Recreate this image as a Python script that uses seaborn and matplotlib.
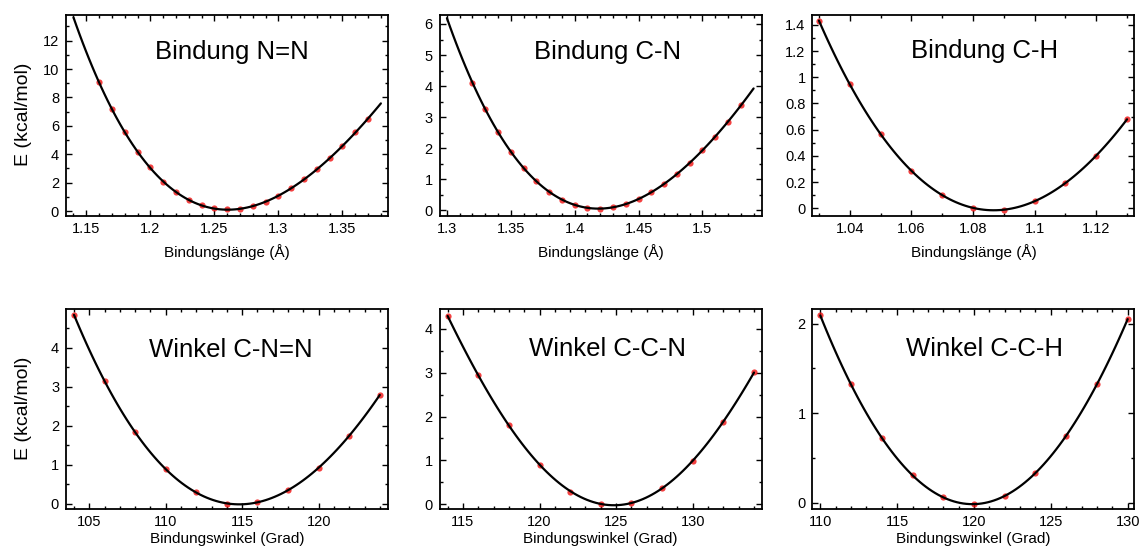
import numpy as np
import matplotlib
matplotlib.use("Agg")
import matplotlib.pyplot as plt
from matplotlib import ticker
import seaborn as sns

# bond length scans: length (Å) vs energy (kcal/mol)
nn_len = [1.16, 1.17, 1.18, 1.19, 1.20, 1.21, 1.22, 1.23, 1.24, 1.25, 1.26,
          1.27, 1.28, 1.29, 1.30, 1.31, 1.32, 1.33, 1.34, 1.35, 1.36, 1.37]
nn_E = [9.06, 7.18, 5.54, 4.18, 3.08, 2.06, 1.32, 0.77, 0.40, 0.19, 0.12,
        0.16, 0.33, 0.66, 1.06, 1.60, 2.23, 2.93, 3.71, 4.60, 5.54, 6.50]

cn_len = [1.32, 1.33, 1.34, 1.35, 1.36, 1.37, 1.38, 1.39, 1.40, 1.41, 1.42,
          1.43, 1.44, 1.45, 1.46, 1.47, 1.48, 1.49, 1.50, 1.51, 1.52, 1.53]
cn_E = [4.11, 3.25, 2.52, 1.89, 1.38, 0.94, 0.60, 0.33, 0.18, 0.08, 0.05,
        0.10, 0.21, 0.37, 0.59, 0.86, 1.17, 1.53, 1.93, 2.37, 2.86, 3.38]

ch_len = [1.03, 1.04, 1.05, 1.06, 1.07, 1.08, 1.09, 1.10, 1.11, 1.12, 1.13]
ch_E = [1.433, 0.947, 0.567, 0.287, 0.10, 0.002, -0.01, 0.053, 0.195, 0.40, 0.68]

# bond angle scans: angle (Grad) vs energy (kcal/mol)
cnn_ang = [104, 106, 108, 110, 112, 114, 116, 118, 120, 122, 124]
cnn_E = [4.84, 3.15, 1.83, 0.88, 0.29, 0.0, 0.04, 0.35, 0.92, 1.74, 2.79]

ccn_ang = [114, 116, 118, 120, 122, 124, 126, 128, 130, 132, 134]
ccn_E = [4.29, 2.94, 1.81, 0.90, 0.29, 0.0, 0.04, 0.38, 0.99, 1.87, 3.01]

cch_ang = [110, 112, 114, 116, 118, 120, 122, 124, 126, 128, 130]
cch_E = [2.09, 1.32, 0.725, 0.305, 0.06, -0.02, 0.08, 0.33, 0.75, 1.32, 2.05]

titles = ["Bindung N=N", "Bindung C-N", "Bindung C-H",
          "Winkel C-N=N", "Winkel C-C-N", "Winkel C-C-H"]
xlab_len = "Bindungslänge (Å)"
xlab_ang = "Bindungswinkel (Grad)"
ylab = "E (kcal/mol)"

sns.set_style("ticks", {"text.color": "black", "axes.labelcolor": "black",
                        "xtick.color": "black", "ytick.color": "black",
                        "axes.edgecolor": "black"})
plt.rcParams["font.family"] = ["Liberation Sans", "DejaVu Sans"]

panels = [
    # x, y, fit range, xlim, ylim, xmajor, xminor, ymajor, title pos
    (nn_len, nn_E, (1.14, 1.38), (1.1342, 1.3856), (-0.35, 13.81), 0.05, 5, 2, (0.514, 0.78)),
    (cn_len, cn_E, (1.30, 1.54), (1.2943, 1.5463), (-0.18, 6.29), 0.05, 5, 1, (0.523, 0.78)),
    (ch_len, ch_E, (1.03, 1.13), (1.0279, 1.1324), (-0.059, 1.476), 0.02, 2, 0.2, (0.533, 0.785)),
    (cnn_ang, cnn_E, (104, 124), (103.48, 124.54), (-0.144, 4.98), 5, 5, 1, (0.512, 0.763)),
    (ccn_ang, ccn_E, (114, 134), (113.48, 134.5), (-0.114, 4.44), 5, 5, 1, (0.521, 0.766)),
    (cch_ang, cch_E, (110, 130), (109.49, 130.44), (-0.074, 2.157), 5, 5, 1, (0.535, 0.766)),
]

col_left = [0.058, 0.386, 0.7133]
row_bottom = [0.6073, 0.074]
row_height = [0.3655, 0.3633]
width = 0.2827

fig = plt.figure(figsize=(11.39, 5.5), dpi=100)

for i, (x, y, fit, xlim, ylim, xmaj, xmin_n, ymaj, tpos) in enumerate(panels):
    row, col = divmod(i, 3)
    ax = fig.add_axes([col_left[col], row_bottom[row], width, row_height[row]])
    # regplot with truncate=False draws the fit across the current xlim
    ax.set_xlim(*fit)
    sns.regplot(x=np.array(x), y=np.array(y), order=4, ci=None, truncate=False, ax=ax,
                scatter_kws=dict(s=20, color="#f01010", linewidths=0, zorder=2),
                line_kws=dict(color="black", lw=1.6, zorder=3))
    ax.set_xlim(*xlim)
    ax.set_ylim(*ylim)

    ax.xaxis.set_major_locator(ticker.MultipleLocator(xmaj))
    ax.xaxis.set_minor_locator(ticker.AutoMinorLocator(xmin_n))
    ax.yaxis.set_major_locator(ticker.MultipleLocator(ymaj))
    ax.yaxis.set_minor_locator(ticker.AutoMinorLocator(2))
    ax.xaxis.set_major_formatter(ticker.FormatStrFormatter("%g"))
    ax.yaxis.set_major_formatter(ticker.FormatStrFormatter("%g"))
    ax.tick_params(which="both", direction="in", top=True, right=True,
                   labelsize=10.5, width=1, colors="black")
    ax.tick_params(which="major", length=4)
    ax.tick_params(which="minor", length=2)
    ax.tick_params(axis="x", pad=4)
    ax.tick_params(axis="y", pad=5)
    for sp in ax.spines.values():
        sp.set_linewidth(1.3)
        sp.set_color("black")

    ax.text(tpos[0], tpos[1], titles[i], transform=ax.transAxes,
            ha="center", va="baseline", fontsize=18.5, color="black")

    if row == 0:
        ax.set_xlabel(xlab_len, fontsize=11, labelpad=6)
    else:
        ax.set_xlabel(xlab_ang, fontsize=11, labelpad=2.5)
    if col == 0:
        ax.set_ylabel(ylab, fontsize=14)
        ax.yaxis.set_label_coords(-0.105, 0.507)
    else:
        ax.set_ylabel("")

fig.savefig("out.png", dpi=100)
